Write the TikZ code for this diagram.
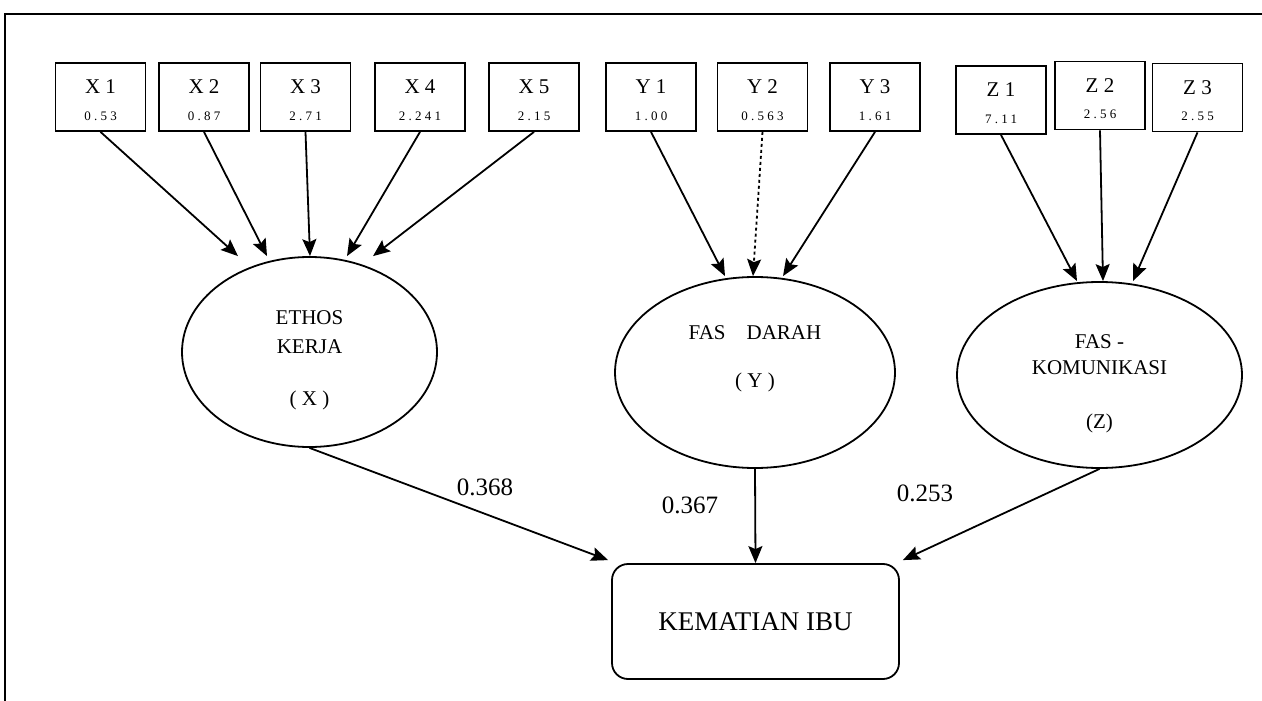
\documentclass[tikz,border=0pt]{standalone}
\usepackage{fontspec}
\setmainfont{Liberation Serif}
\newfontfamily\valfont[LetterSpace=25]{Liberation Serif}
\usetikzlibrary{arrows.meta,shapes.geometric,calc}
\newcommand\obsbox[5]{%
  \node[obs] (#1) at (#2,#3) {};
  \node[obslab] at ([yshift=10pt]#1.center) {#4};
  \node[obsval] at ([yshift=-19pt]#1.center) {#5};
}
\begin{document}
\begin{tikzpicture}[x=1pt,y=-1pt,
  line width=1.8pt,
  obs/.style={draw,line width=1.8pt,minimum width=90pt,minimum height=68pt,inner sep=0pt},
  obslab/.style={font=\fontsize{21}{23}\selectfont,inner sep=0pt},
  obsval/.style={font=\valfont\fontsize{13}{15}\selectfont,inner sep=0pt},
  lat/.style={draw,ellipse,line width=1.8pt,inner sep=0pt},
  lattext/.style={font=\fontsize{21}{23}\selectfont,inner sep=0pt},
  arr/.style={-{Stealth[length=17pt,width=14pt,inset=3pt]},line width=1.8pt},
  coef/.style={font=\fontsize{25}{27}\selectfont,inner sep=0pt}]
\useasboundingbox (0,0) rectangle (1262,701);
% outer frame (open on right and bottom)
\draw[line width=2pt] (5,701) -- (5,14) -- (1262,14);

% observed indicator boxes
\obsbox{X1}{100.5}{97}{X 1}{0.53}
\obsbox{X2}{204}{97}{X 2}{0.87}
\obsbox{X3}{305.5}{97}{X 3}{2.71}
\obsbox{X4}{420}{97}{X 4}{2.241}
\obsbox{X5}{534}{97}{X 5}{2.15}
\obsbox{Y1}{651}{97}{Y 1}{1.00}
\obsbox{Y2}{762.5}{97}{Y 2}{0.563}
\obsbox{Y3}{875}{97}{Y 3}{1.61}
\obsbox{Z1}{1001}{100}{Z 1}{7.11}
\obsbox{Z2}{1100}{95.5}{Z 2}{2.56}
\obsbox{Z3}{1197.5}{97.5}{Z 3}{2.55}

% latent ellipses
\node[lat,minimum width=255pt,minimum height=190pt] (EK) at (309.5,352) {};
\node[lattext] at ([yshift=34pt]EK.center) {ETHOS};
\node[lattext] at ([yshift=5pt]EK.center) {KERJA};
\node[lattext] at ([yshift=-48pt]EK.center) {( X )};

\node[lat,minimum width=280pt,minimum height=191pt] (FD) at (755,372.5) {};
\node[lattext] at ([yshift=40pt]FD.center) {FAS\quad DARAH};
\node[lattext] at ([yshift=-10pt]FD.center) {( Y )};

\node[lat,minimum width=285pt,minimum height=186pt] (FK) at (1099.5,375) {};
\node[lattext] at ([yshift=33pt]FK.center) {FAS -};
\node[lattext] at ([yshift=7pt]FK.center) {KOMUNIKASI};
\node[lattext] at ([yshift=-48pt]FK.center) {(Z)};

% outcome
\node[draw,rounded corners=16pt,line width=1.8pt,minimum width=287pt,minimum height=115pt,
      font=\fontsize{27}{29}\selectfont] (KI) at (755.5,621.5) {KEMATIAN IBU};

% indicator arrows
\draw[arr] (X1.south) -- ([xshift=-71.5pt]EK.north);
\draw[arr] (X2.south) -- ([xshift=-42.5pt]EK.north);
\draw[arr] (X3.south) -- ([xshift=0.5pt]EK.north);
\draw[arr] (X4.south) -- ([xshift=37.5pt]EK.north);
\draw[arr] (X5.south) -- ([xshift=63.5pt]EK.north);

\draw[arr] (Y1.south) -- ([xshift=-30pt]FD.north);
\draw[arr,dashed] (Y2.south) -- ([xshift=-2pt]FD.north);
\draw[arr] (Y3.south) -- ([xshift=28pt]FD.north);

\draw[arr] (Z1.south) -- ([xshift=-22.5pt]FK.north);
\draw[arr] (Z2.south) -- ([xshift=3.5pt]FK.north);
\draw[arr] (Z3.south) -- ([xshift=33.5pt]FK.north);

% structural arrows
\draw[arr] (EK.south) -- ([shift={(-3pt,3pt)}]KI.north west);
\draw[arr] (FD.south) -- (KI.north);
\draw[arr] (FK.south) -- ([shift={(3pt,3pt)}]KI.north east);

\node[coef] (c1) at (485,487) {0.368};
\node[coef] (c2) at (690,505) {0.367};
\node[coef] (c3) at (925,493) {0.253};
\end{tikzpicture}
\end{document}
